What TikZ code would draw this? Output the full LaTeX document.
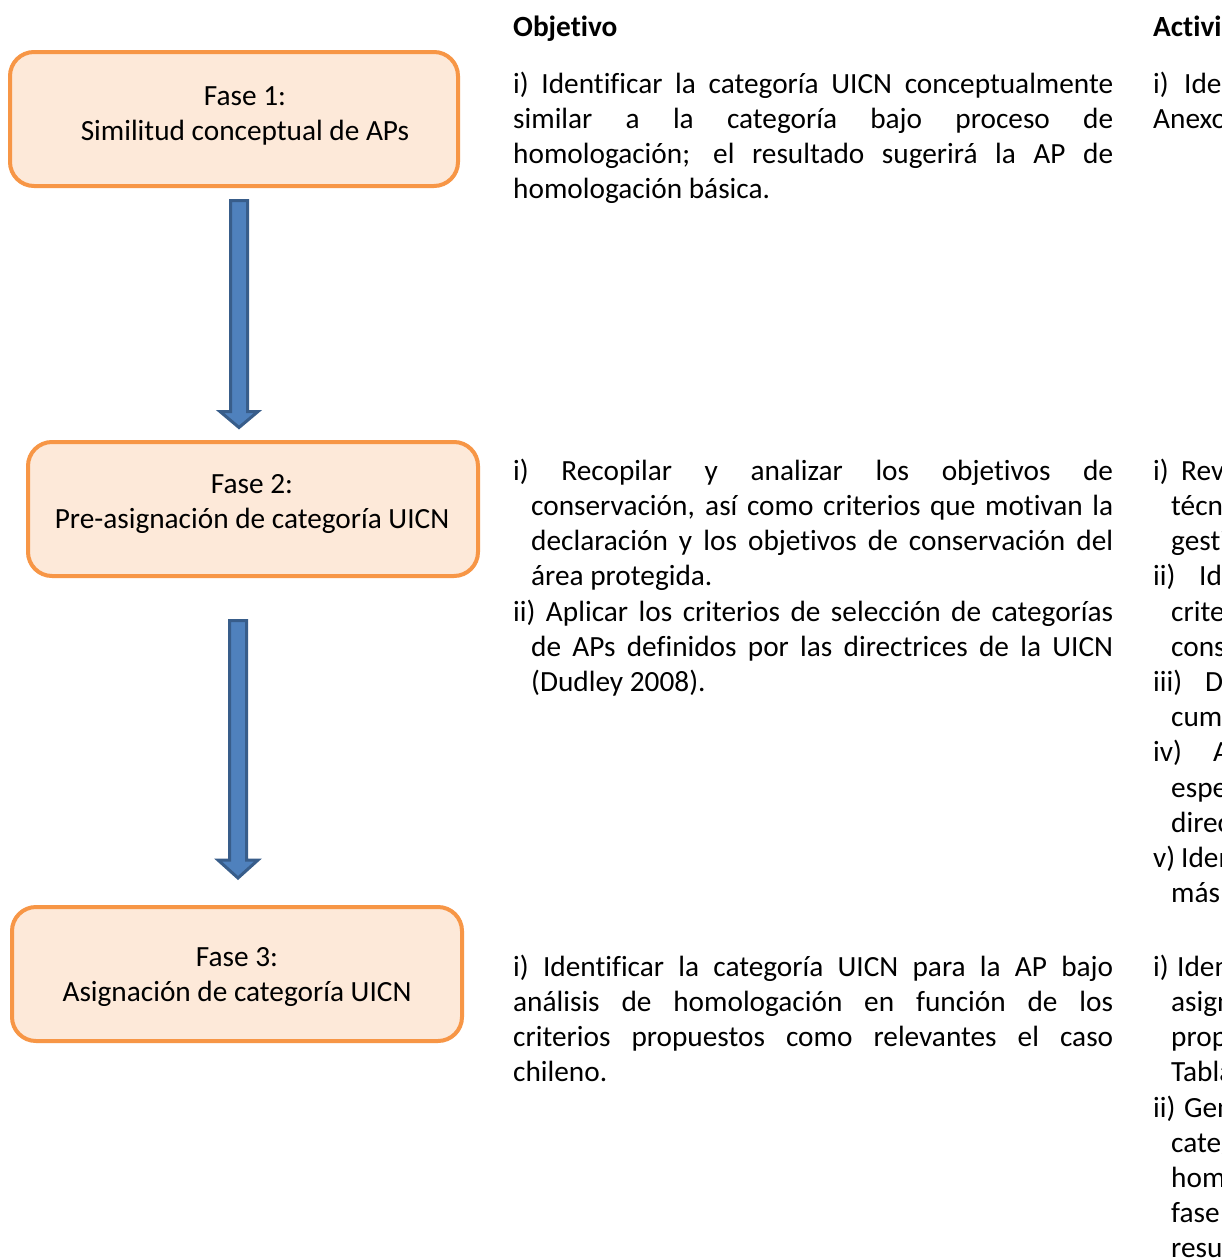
\documentclass[tikz,border=0pt]{standalone}
\usepackage{fontspec}
\setmainfont{Carlito}[Ligatures={NoCommon}]
\usetikzlibrary{calc}
\definecolor{orgline}{HTML}{F79646}
\definecolor{orgfill}{HTML}{FDE9D9}
\definecolor{arrfill}{HTML}{4F81BD}
\definecolor{arrline}{HTML}{385D8A}
\newcommand{\bodyfont}{\fontsize{29.3}{35.2}\selectfont}
\newcommand{\jline}[1]{\strut\makebox[600pt][s]{#1}}
\newcommand{\hjline}[1]{\strut\hspace*{18pt}\makebox[582pt][s]{#1}}
\newcommand{\indline}[1]{\strut\hspace*{18pt}#1}
\begin{document}
\begin{tikzpicture}[x=1pt,y=-1pt,
  phase/.style={draw=orgline, fill=orgfill, line width=4pt, rounded corners=24pt, inner sep=0pt},
  phasetext/.style={align=center, font=\bodyfont, inner sep=0pt, anchor=north},
  para/.style={align=left, font=\bodyfont, inner sep=0pt, anchor=north west},
  blockarrow/.style={fill=arrfill, draw=arrline, line width=3pt, line join=miter},
  colhead/.style={font=\bodyfont\bfseries, inner sep=0pt, anchor=base west}]
\useasboundingbox (0,0) rectangle (1222,1258);
\fill[white] (0,0) rectangle (1222,1258);
\begin{scope}
\clip (0,0) rectangle (1222,1258);
% phase boxes
\node[phase, minimum width=448pt, minimum height=134pt] (f1) at (234,119) {};
\node[phase, minimum width=450pt, minimum height=134pt] (f2) at (253,509) {};
\node[phase, minimum width=450pt, minimum height=134pt] (f3) at (237,974) {};
\node[phasetext] (f1t) at (245,80.36) {\strut Fase 1:\\\strut Similitud conceptual de APs};
\node[phasetext] (f2t) at (252,468.36) {\strut Fase 2:\\\strut Pre-asignación de categoría UICN};
\node[phasetext] (f3t) at (237,941.36) {\strut Fase 3:\\\strut Asignación de categoría UICN};
% block arrows
\coordinate (a1s) at ($(f1.south)+(5,12.5)$);
\coordinate (a1e) at ($(f2.north)+(-14,-12.5)$);
\draw[blockarrow] ($(a1s)+(-8.5,0)$) -- ($(a1e)+(-8.5,-16)$) -- ($(a1e)+(-19,-16)$) -- (a1e)
  -- ($(a1e)+(19,-16)$) -- ($(a1e)+(8.5,-16)$) -- ($(a1s)+(8.5,0)$) -- cycle;
\coordinate (a2s) at ($(f2.north)+(-15,180.5)$);
\coordinate (a2e) at ($(f3.north)+(1,-27)$);
\draw[blockarrow] ($(a2s)+(-8.5,0)$) -- ($(a2e)+(-8.5,-18)$) -- ($(a2e)+(-20,-18)$) -- (a2e)
  -- ($(a2e)+(20,-18)$) -- ($(a2e)+(8.5,-18)$) -- ($(a2s)+(8.5,0)$) -- cycle;
% headers
\node[colhead] (hobj) at (513,36) {Objetivo};
\node[colhead] (hact) at (1153,36) {Actividades};
% objectives
\node[para] (o1) at (513,68.36) {%
\jline{i) Identificar la categoría UICN conceptualmente}\\
\jline{similar a la categoría bajo proceso de}\\
\jline{homologación; el resultado sugerirá la AP de}\\
\strut homologación básica.};
\node[para] (o2) at (513,455.36) {%
\jline{i) Recopilar y analizar los objetivos de}\\
\hjline{conservación, así como criterios que motivan la}\\
\hjline{declaración y los objetivos de conservación del}\\
\indline{área protegida.}\\
\jline{ii) Aplicar los criterios de selección de categorías}\\
\hjline{de APs definidos por las directrices de la UICN}\\
\indline{(Dudley 2008).}};
\node[para] (o3) at (513,951.36) {%
\jline{i) Identificar la categoría UICN para la AP bajo}\\
\jline{análisis de homologación en función de los}\\
\jline{criterios propuestos como relevantes el caso}\\
\strut chileno.};
% activities (cut off at the right edge)
\node[para] (c1) at (1153,68.36) {%
\strut\makebox[31pt][l]{i)}Identificar\\
\strut Anexo};
\node[para] (c2) at (1153,455.36) {%
\strut\makebox[28pt][l]{i)}Revisar\\
\indline{técnicos}\\
\indline{gestión}\\
\strut\makebox[46pt][l]{ii)}Identificar\\
\indline{criterios}\\
\indline{conservación}\\
\strut\makebox[52pt][l]{iii)}Determinar\\
\indline{cumplimiento}\\
\strut\makebox[60pt][l]{iv)}Analizar\\
\indline{especies}\\
\indline{directrices}\\
\strut\makebox[28pt][l]{v)}Identificar\\
\indline{más}};
\node[para] (c3) at (1153,951.36) {%
\strut\makebox[24pt][l]{i)}Identificar\\
\indline{asignación}\\
\indline{propuestos}\\
\indline{Tabla}\\
\strut\makebox[31pt][l]{ii)}Generar\\
\indline{categoría}\\
\indline{homologación}\\
\indline{fase}\\
\indline{resultado}};
\end{scope}
\end{tikzpicture}
\end{document}
